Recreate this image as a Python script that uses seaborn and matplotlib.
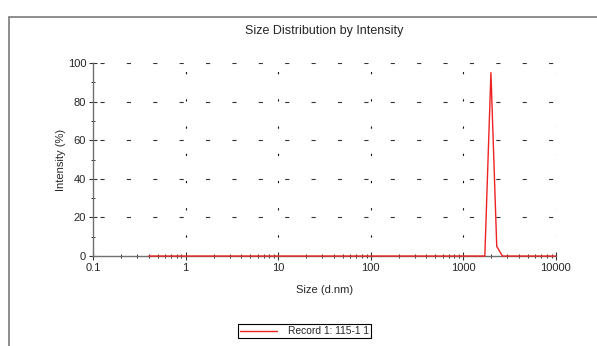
import pandas as pd
import seaborn as sns
from matplotlib import pyplot as plt
from matplotlib.patches import Rectangle
from matplotlib.ticker import LogLocator, FixedLocator, MultipleLocator, FuncFormatter

SIZE_NM = [0.4, 1.0, 10.0, 100.0, 1000.0, 1710.0, 1990.0, 2300.0, 2650.0, 5000.0, 10000.0]
INTENSITY = [0, 0, 0, 0, 0, 0, 95, 5, 0, 0, 0]
RECORD = 'Record 1: 115-1 1'

X_TICKS = [0.1, 1, 10, 100, 1000, 10000]
Y_TICKS = [0, 20, 40, 60, 80, 100]


def main():
    sns.set_theme(style='white')
    plt.rcParams['font.family'] = ['Liberation Sans', 'DejaVu Sans']
    plt.rcParams['lines.scale_dashes'] = False

    df = pd.DataFrame({'Size': SIZE_NM, 'Intensity': INTENSITY, 'Record': RECORD})

    fig = plt.figure(figsize=(5.97, 3.46), dpi=100)
    ax = fig.add_axes([0.156, 0.260, 0.775, 0.558])

    # frame around the report panel (only top and left are visible)
    fig.patches.append(Rectangle((0.015, -0.1), 1.2, 1.051, transform=fig.transFigure,
                                 fill=False, edgecolor='#7a7a7a', linewidth=1.2))

    sns.lineplot(data=df, x='Size', y='Intensity', hue='Record', palette=['#ee2222'],
                 linewidth=1.0, ax=ax, zorder=3, clip_on=False)

    ax.set_xscale('log')
    ax.set_xlim(0.1, 10000)
    ax.set_ylim(0, 100)
    ax.xaxis.set_major_locator(FixedLocator(X_TICKS))
    ax.xaxis.set_major_formatter(FuncFormatter(lambda v, p: f'{v:g}'))
    ax.xaxis.set_minor_locator(LogLocator(base=10, subs=range(2, 10)))
    ax.yaxis.set_major_locator(FixedLocator(Y_TICKS))
    ax.yaxis.set_minor_locator(MultipleLocator(10))

    for side in ['top', 'right']:
        ax.spines[side].set_visible(False)
    for side in ['left', 'bottom']:
        ax.spines[side].set_color('#707070')
        ax.spines[side].set_linewidth(1.0)

    ax.tick_params(which='major', direction='inout', length=6, width=0.8, color='#333333',
                   labelsize=8, pad=2, bottom=True, left=True)
    ax.tick_params(which='minor', direction='inout', length=3.5, width=0.7, color='#333333',
                   bottom=True, left=True)

    # sparse dashed grid like the instrument software
    for y in Y_TICKS[1:]:
        ax.axhline(y, color='#333333', linewidth=0.8, linestyle=(14, (3, 16)), zorder=1)
    for x in X_TICKS[1:]:
        ax.axvline(x, color='#111111', linewidth=0.8, linestyle=(6, (1.6, 18)), zorder=1)

    ax.set_title('Size Distribution by Intensity', fontsize=9, pad=21)
    ax.set_xlabel('Size (d.nm)', fontsize=8, labelpad=9)
    ax.set_ylabel('Intensity (%)', fontsize=8, labelpad=1)

    ax.legend(loc='center', bbox_to_anchor=(0.51, 0.043), bbox_transform=fig.transFigure,
              frameon=True, fancybox=False, edgecolor='black', fontsize=7.4,
              handlelength=3.6, borderpad=0.2, handletextpad=1.0, borderaxespad=0,
              framealpha=1)
    ax.get_legend().get_frame().set_linewidth(0.8)

    fig.savefig('out.png', dpi=100)


if __name__ == '__main__':
    main()
